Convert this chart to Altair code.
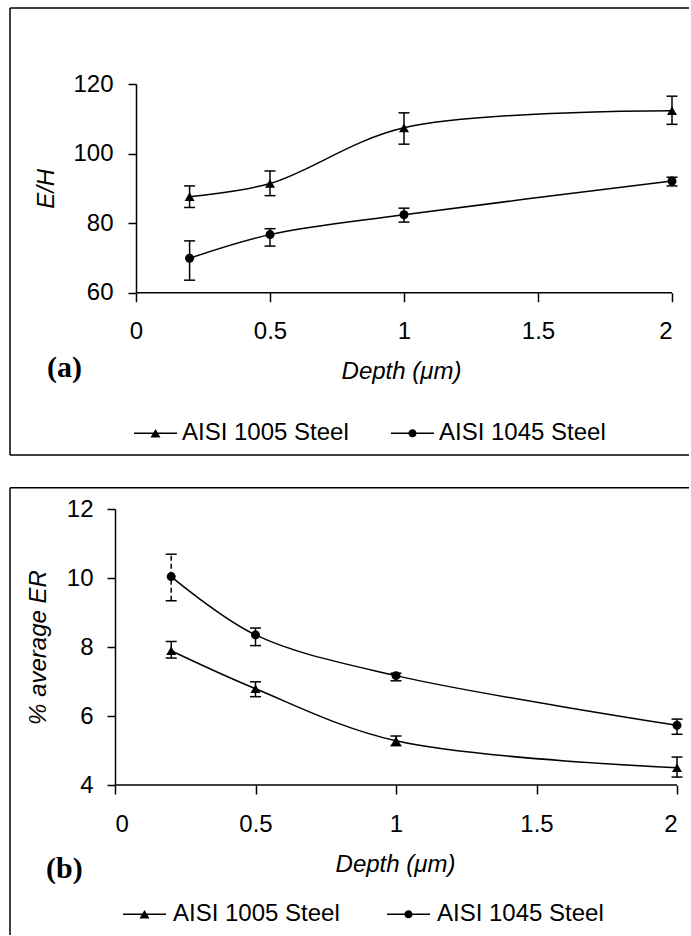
import altair as alt
import pandas as pd

series = ["AISI 1005 Steel", "AISI 1045 Steel"]
depth = [0.2, 0.5, 1.0, 2.0]

# panel (a): E/H
eh_1005 = [87.6, 91.4, 107.4, 112.3]
eh_1005_lo = [84.5, 87.9, 102.7, 108.4]
eh_1005_hi = [90.7, 95.0, 111.7, 116.5]
eh_1045 = [69.9, 76.7, 82.4, 92.1]
eh_1045_lo = [63.6, 73.4, 80.3, 90.7]
eh_1045_hi = [74.9, 78.4, 84.3, 93.2]

# panel (b): % average ER
er_1005 = [7.89, 6.79, 5.28, 4.50]
er_1005_lo = [7.68, 6.56, 5.14, 4.23]
er_1005_hi = [8.16, 6.99, 5.42, 4.81]
er_1045 = [10.04, 8.35, 7.17, 5.73]
er_1045_lo = [9.34, 8.04, 7.02, 5.47]
er_1045_hi = [10.69, 8.55, 7.24, 5.91]

x_ticks = [0, 0.5, 1, 1.5, 2]
eh_ticks = [60, 80, 100, 120]
er_ticks = [4, 6, 8, 10, 12]

FONT = "Liberation Sans"
SERIF = "Liberation Serif"

# legend glyphs: a short line (thin filled bar) with the marker in the middle
TRI_PATH = "M-1,-0.035H1V0.035H-1ZM0,-0.2L0.233,0.2L-0.233,0.2Z"
CIRC_PATH = ("M-1,-0.035H1V0.035H-1Z"
             "M0.19,0A0.19,0.19,0,1,1,-0.19,0A0.19,0.19,0,1,1,0.19,0Z")


def make_df(v1, lo1, hi1, v2, lo2, hi2):
    rows = []
    for s, v, lo, hi in [(series[0], v1, lo1, hi1), (series[1], v2, lo2, hi2)]:
        for d, a, b, c in zip(depth, v, lo, hi):
            rows.append({"series": s, "depth": d, "value": a, "lo": b, "hi": c})
    return pd.DataFrame(rows)


def panel(df, w, h, xdom, yaxis_offset, ydom, yticks, ytitle, ytitle_x, ylabpad, xtitle_x,
          tag, tag_x, tag_y, frame, legx, legy, colpad, laboff, dash_test=None):
    xs = alt.Scale(domain=xdom, nice=False, zero=False)
    ys = alt.Scale(domain=ydom, nice=False, zero=False)
    xaxis = alt.Axis(values=x_ticks, format="~g", title="Depth (μm)", tickSize=9,
                     labelPadding=18, titleY=79, titleX=xtitle_x, titleBaseline="middle",
                     domain=False)
    yaxis = alt.Axis(values=yticks, title=ytitle, tickSize=8, labelPadding=ylabpad,
                     titleX=ytitle_x, titleY=h / 2, titleAngle=270, offset=yaxis_offset,
                     titleBaseline="middle", titleAlign="center")
    X = alt.X("depth:Q", scale=xs, axis=xaxis)

    base = alt.Chart(df)
    line = base.mark_line(color="black", strokeWidth=1.5, interpolate="catmull-rom").encode(
        x=X, y=alt.Y("value:Q", scale=ys, axis=yaxis), detail="series:N")

    # x-axis baseline from 0 to 2 drawn through the x scale
    one = pd.DataFrame({"t": [tag]})
    x_base = alt.Chart(one).mark_rule(color="black", strokeWidth=1.5).encode(
        x=alt.datum(x_ticks[0]), x2=alt.datum(x_ticks[-1]), y=alt.value(h))

    rule_enc = dict(x=X, y=alt.Y("lo:Q", scale=ys, axis=yaxis), y2="hi:Q")
    if dash_test:
        rule_enc["strokeDash"] = alt.condition(dash_test, alt.value([5, 3]), alt.value([1, 0]))
    bars = base.mark_rule(color="black", strokeWidth=1.5).encode(**rule_enc)
    cap_lo = base.mark_tick(color="black", orient="horizontal", size=11, thickness=1.5,
                            opacity=1).encode(x=X, y=alt.Y("lo:Q", scale=ys, axis=yaxis))
    cap_hi = base.mark_tick(color="black", orient="horizontal", size=11, thickness=1.5,
                            opacity=1).encode(x=X, y=alt.Y("hi:Q", scale=ys, axis=yaxis))

    pts_tri = base.transform_filter(alt.datum.series == series[0]).mark_point(
        shape="triangle-up", filled=True, color="black", size=100, opacity=1).encode(
        x=X, y=alt.Y("value:Q", scale=ys, axis=yaxis))
    pts_circ = base.transform_filter(alt.datum.series == series[1]).mark_point(
        shape="circle", filled=True, color="black", size=81, opacity=1).encode(
        x=X, y=alt.Y("value:Q", scale=ys, axis=yaxis))

    legend_layer = base.transform_filter("false").mark_point(
        filled=True, color="black", opacity=1).encode(
        shape=alt.Shape("series:N",
                        scale=alt.Scale(domain=series, range=[TRI_PATH, CIRC_PATH]),
                        legend=alt.Legend(orient="none", legendX=legx, legendY=legy,
                                          direction="horizontal", title=None,
                                          labelFont=FONT, labelFontSize=24,
                                          labelColor="black", labelOffset=laboff,
                                          labelLimit=0,
                                          columnPadding=colpad, padding=0,
                                          symbolSize=1849, symbolStrokeWidth=0,
                                          symbolFillColor="black",
                                          symbolOpacity=1)))

    tag_text = alt.Chart(one).mark_text(font=SERIF, fontWeight="bold", fontSize=30,
                                        align="left", baseline="middle",
                                        color="black").encode(
        x=alt.value(tag_x), y=alt.value(tag_y), text="t:N")

    L, T, R, B, closed = frame
    fr = alt.Chart(one)
    frame_layers = [
        fr.mark_rule(color="black", strokeWidth=1.5).encode(
            x=alt.value(L), x2=alt.value(R), y=alt.value(T)),
        fr.mark_rule(color="black", strokeWidth=1.5).encode(
            x=alt.value(L), y=alt.value(T), y2=alt.value(B)),
    ]
    if closed:
        frame_layers.append(fr.mark_rule(color="black", strokeWidth=1.5).encode(
            x=alt.value(L), x2=alt.value(R), y=alt.value(B)))

    return alt.layer(line, x_base, bars, cap_lo, cap_hi, pts_tri, pts_circ, legend_layer,
                     tag_text, *frame_layers).properties(width=w, height=h)


df_a = make_df(eh_1005, eh_1005_lo, eh_1005_hi, eh_1045, eh_1045_lo, eh_1045_hi)
df_b = make_df(er_1005, er_1005_lo, er_1005_hi, er_1045, er_1045_lo, er_1045_hi)

# Both panels share the same plot origin in the concat layout; the upper panel's
# x = 0 sits 21 px further right, so its view starts a little before 0.
top_shift = 21
top_w = 557
top_xmin = -2 * top_shift / (top_w - top_shift)

top = panel(df_a, top_w, 208.7, [top_xmin, 2], -top_shift, [60, 120], eh_ticks, "E/H",
            -90, 15, 286, "(a)", -68, 284, (-105, -76, 574, 371, True),
            19, 327.5, 42, 5)
bottom = panel(df_b, 562, 276, [0, 2], 0, [4, 12], er_ticks, "% average ER", -77, 14, 280,
               "(b)", -69, 360, (-105, -21.3, 574, 426, False), 8, 383.5, 47, 7,
               dash_test="datum.series == 'AISI 1045 Steel' && datum.depth == 0.2")

chart = alt.vconcat(top, bottom, spacing=30).resolve_scale(
    shape="independent").resolve_legend(shape="independent").properties(
    padding={"left": 9, "top": 7, "right": 0, "bottom": 0},
    background="white",
).configure_view(stroke=None).configure_axis(
    domainColor="black", domainWidth=1.5, tickColor="black", tickWidth=1.5,
    labelFont=FONT, labelFontSize=24, labelColor="black", grid=False,
    titleFont=FONT, titleFontSize=24, titleFontStyle="italic", titleFontWeight="normal",
    titleColor="black"
)

chart.save("out.html", embed_options={"renderer": "svg", "actions": False})
